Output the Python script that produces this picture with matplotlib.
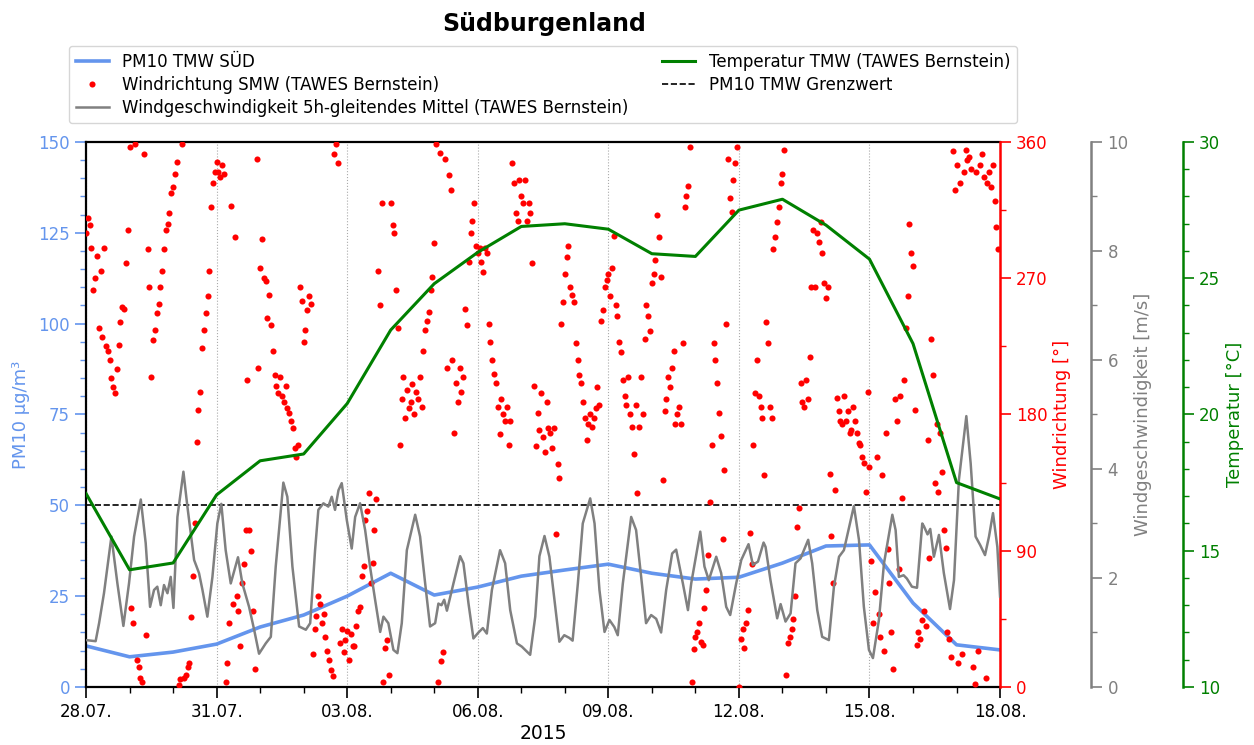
import numpy as np
import pandas as pd
import matplotlib
matplotlib.use("Agg")
import matplotlib.pyplot as plt
import matplotlib.dates as mdates
from matplotlib.ticker import MultipleLocator, FixedLocator

# Tageswerte 28.07. - 18.08.2015
days = pd.date_range("2015-07-28", "2015-08-18", freq="D")
pm10 = [11.3, 8.3, 9.6, 11.8, 16.5, 19.8, 25.0, 31.3, 25.3, 27.5, 30.5,
        32.2, 33.8, 31.3, 29.7, 30.2, 34.1, 38.8, 39.1, 23.1, 11.6, 10.2]
temp = [17.1, 14.3, 14.55, 17.05, 18.3, 18.55, 20.4, 23.1, 24.8, 25.95, 26.9,
        27.0, 26.8, 25.9, 25.8, 27.5, 27.9, 26.95, 25.7, 22.6, 17.5, 16.9]
grenzwert = 50

# Windrichtung, Stundenwerte (eine Zeile pro Tag)
wind_dir = [
    300, 310, 305, 290, 262, 270, 285, 237, 275, 231, 290, 225, 222, 216, 204, 198, 194, 210, 226, 241, 251, 250, 280, 302,  # 28.07.
    357, 52, 42, 359, 18, 13, 6, 3, 352, 34, 289, 264, 205, 229, 236, 247, 253, 264, 275, 289, 302, 306, 313, 326,  # 29.07.
    330, 339, 347, 1, 5, 359, 6, 8, 13, 16, 46, 73, 108, 162, 183, 195, 224, 236, 247, 258, 275, 317, 333, 340,  # 30.07.
    347, 340, 337, 345, 339, 3, 16, 42, 318, 55, 297, 60, 50, 27, 69, 81, 104, 203, 104, 90, 50, 12, 349, 211,  # 31.07.
    277, 296, 270, 268, 244, 259, 239, 222, 206, 199, 194, 205, 192, 188, 199, 184, 181, 176, 171, 158, 152, 160, 264, 255,  # 01.08.
    228, 236, 249, 258, 253, 22, 38, 47, 60, 55, 42, 48, 33, 24, 18, 11, 7, 352, 359, 346, 29, 38, 23, 31,  # 02.08.
    37, 18, 35, 27, 27, 40, 50, 53, 73, 80, 110, 116, 128, 69, 82, 104, 124, 275, 252, 320, 3, 26, 31, 8,  # 03.08.
    320, 305, 300, 262, 237, 160, 190, 205, 178, 196, 184, 188, 200, 180, 195, 190, 205, 185, 222, 236, 242, 248, 262, 271,  # 04.08.
    293, 359, 3, 353, 17, 23, 349, 211, 338, 328, 216, 168, 201, 188, 211, 195, 205, 250, 239, 281, 300, 308, 320, 291,  # 05.08.
    287, 290, 281, 274, 290, 287, 240, 228, 216, 207, 201, 185, 167, 190, 180, 176, 185, 160, 176, 346, 333, 313, 308, 335,  # 06.08.
    324, 320, 335, 308, 320, 313, 280, 199, 159, 181, 170, 194, 165, 155, 188, 171, 168, 158, 171, 101, 147, 138, 240, 254,  # 07.08.
    273, 284, 291, 264, 259, 254, 227, 216, 206, 201, 188, 178, 163, 174, 180, 172, 178, 184, 198, 186, 242, 249, 264, 269,  # 08.08.
    273, 258, 277, 298, 252, 245, 228, 221, 203, 192, 186, 205, 180, 172, 154, 186, 128, 172, 205, 180, 230, 252, 245, 235,  # 09.08.
    267, 273, 282, 312, 297, 271, 137, 182, 190, 205, 198, 211, 222, 174, 180, 185, 174, 227, 317, 324, 331, 357, 3, 25,  # 10.08.
    33, 36, 42, 30, 28, 52, 64, 87, 122, 160, 227, 216, 201, 181, 166, 98, 143, 240, 349, 323, 314, 335, 346, 357,  # 11.08.
    0, 32, 38, 26, 42, 51, 102, 81, 160, 194, 216, 192, 185, 178, 140, 241, 227, 185, 178, 289, 297, 307, 317, 333,  # 12.08.
    339, 355, 8, 29, 33, 38, 45, 60, 106, 118, 201, 188, 185, 203, 190, 218, 264, 302, 264, 300, 294, 307, 287, 267,  # 13.08.
    257, 264, 141, 100, 69, 130, 191, 182, 176, 174, 192, 176, 182, 168, 170, 185, 176, 168, 161, 160, 152, 148, 129, 195,  # 14.08.
    145, 83, 42, 63, 152, 48, 33, 140, 24, 168, 91, 69, 36, 12, 190, 176, 78, 192, 125, 203, 237, 258, 306, 287,  # 15.08.
    278, 183, 28, 36, 32, 44, 50, 40, 163, 85, 230, 206, 135, 174, 129, 168, 142, 104, 92, 36, 32, 20, 354, 328,  # 16.08.
    345, 16, 333, 22, 340, 355, 348, 350, 342, 13, 2, 340, 24, 345, 352, 337, 6, 333, 340, 330, 345, 321, 304, 289,  # 17.08.
]
wd_time = pd.date_range("2015-07-28", periods=len(wind_dir), freq="h")

# Windgeschwindigkeit 5h-Mittel: (Stunden ab 28.07. 00:00, m/s)
ws_points = [
    (0, 0.86), (5.3, 0.84), (7.2, 1.17), (9.9, 1.72), (14.0, 2.76), (17.3, 1.9), (20.6, 1.12),
    (23.7, 1.9), (26.5, 2.76), (30.2, 3.44), (32.9, 2.64), (35.3, 1.47), (37.5, 1.78), (39.3, 1.84),
    (41.2, 1.5), (43.0, 1.87), (44.9, 1.72), (46.7, 2.02), (48.2, 1.45), (50.4, 3.12), (53.7, 3.95),
    (55.9, 3.31), (59.6, 2.33), (62.3, 2.09), (64.2, 1.78), (66.9, 1.29), (69.7, 2.02), (72.4, 3.0),
    (74.6, 3.36), (77.0, 2.51), (79.8, 1.9), (83.8, 2.38), (86.2, 1.9), (89.9, 1.47), (92.7, 1.05),
    (95.4, 0.61), (99.1, 0.8), (101.9, 0.92), (104.6, 2.21), (108.8, 3.75), (111.0, 3.49), (113.8, 2.21),
    (117.5, 1.11), (121.2, 1.05), (123.6, 1.17), (126.3, 2.51), (128.1, 3.25), (130.9, 3.37), (133.6, 3.31),
    (135.5, 3.49), (137.3, 3.25), (139.2, 3.61), (141.0, 3.74), (143.8, 3.06), (146.5, 2.54), (148.4, 3.12),
    (151.1, 3.37), (153.9, 2.88), (156.6, 2.21), (159.4, 1.6), (162.2, 1.01), (164.0, 1.29), (166.7, 1.17),
    (169.5, 0.68), (171.7, 0.62), (174.1, 1.17), (176.9, 2.51), (181.5, 3.16), (184.2, 2.76), (187.0, 1.9),
    (189.7, 1.11), (192.5, 1.17), (194.3, 1.53), (196.0, 1.5), (197.5, 1.6), (199.0, 1.4), (202.6, 1.9),
    (206.3, 2.4), (208.1, 2.27), (210.9, 1.53), (213.6, 0.89), (216.4, 1.0), (218.8, 1.08), (221.0, 0.98),
    (223.8, 1.78), (228.3, 2.51), (231.1, 2.27), (233.9, 1.41), (237.6, 0.8), (240.3, 0.74), (244.9, 0.59),
    (247.7, 1.29), (250.0, 2.4), (252.8, 2.77), (255.5, 2.39), (258.3, 1.6), (261.0, 0.83), (263.7, 0.95),
    (266.5, 0.9), (268.3, 0.85), (271.2, 1.9), (273.9, 3.0), (278.0, 3.46), (280.4, 3.0), (283.1, 1.78),
    (285.9, 1.01), (288.6, 1.23), (291.3, 1.1), (293.2, 0.95), (296.0, 1.9), (300.6, 3.12), (303.3, 2.88),
    (306.1, 2.02), (308.8, 1.17), (311.6, 1.32), (314.4, 1.25), (317.1, 1.0), (319.9, 1.78), (323.2, 2.45),
    (325.4, 2.52), (329.1, 1.9), (331.9, 1.41), (333.7, 1.9), (338.7, 2.85), (341.0, 2.21), (343.4, 1.96),
    (347.5, 2.39), (350.2, 2.09), (353.0, 1.47), (355.2, 1.32), (358.5, 1.9), (361.3, 2.33), (365.3, 2.62),
    (367.7, 2.24), (370.5, 2.3), (373.6, 2.65), (374.7, 2.57), (377.4, 1.96), (381.1, 1.26), (383.0, 1.52),
    (385.7, 1.2), (388.5, 1.35), (391.2, 2.27), (394.0, 2.36), (398.2, 2.7), (400.4, 2.27), (403.2, 1.41),
    (405.9, 0.92), (409.6, 0.86), (412.4, 1.84), (415.2, 2.39), (417.9, 2.51), (423.4, 3.32), (426.2, 2.7),
    (428.9, 1.47), (431.7, 0.68), (433.9, 0.53), (437.2, 1.23), (440.0, 2.27), (444.6, 3.16), (446.4, 2.88),
    (448.2, 2.02), (450.8, 2.05), (452.6, 1.99), (455.4, 1.84), (458.2, 1.82), (461.1, 3.0), (462.0, 2.95),
    (464.0, 2.8), (465.5, 2.9), (467.5, 2.39), (470.3, 2.79), (473.0, 2.09), (476.4, 1.43), (478.6, 1.96),
    (481.3, 3.8), (485.4, 4.97), (487.8, 4.1), (490.5, 2.76), (493.1, 2.6), (495.7, 2.42), (497.9, 2.76),
    (500.1, 3.19), (502.5, 2.57), (504.0, 1.66),
]
ws_hours = [p[0] for p in ws_points]
ws_speed = [p[1] for p in ws_points]
ws_time = pd.Timestamp("2015-07-28") + pd.to_timedelta(ws_hours, unit="h")

c_pm = "cornflowerblue"
c_wd = "red"
c_ws = "gray"
c_t = "green"

fig = plt.figure(figsize=(12.54, 7.45), dpi=100)
ax = fig.add_axes([0.0686, 0.0779, 0.7289, 0.7315])
ax_wd = ax.twinx()
ax_ws = ax.twinx()
ax_t = ax.twinx()
ax_ws.spines["right"].set_position(("axes", 1.1))
ax_t.spines["right"].set_position(("axes", 1.2))

l_pm, = ax.plot(days, pm10, color=c_pm, lw=2.6, label="PM10 TMW SÜD")
l_gw = ax.axhline(grenzwert, color="black", ls="--", lw=1.2, label="PM10 TMW Grenzwert")
l_wd, = ax_wd.plot(wd_time, wind_dir, "o", color=c_wd, ms=4.4, mew=0,
                   label="Windrichtung SMW (TAWES Bernstein)")
l_ws, = ax_ws.plot(ws_time, ws_speed, color=c_ws, lw=1.8,
                   label="Windgeschwindigkeit 5h-gleitendes Mittel (TAWES Bernstein)")
l_t, = ax_t.plot(days, temp, color=c_t, lw=2.2, label="Temperatur TMW (TAWES Bernstein)")

ax.set_xlim(days[0], days[-1])
ax.set_ylim(0, 150)
ax_wd.set_ylim(0, 360)
ax_ws.set_ylim(0, 10)
ax_t.set_ylim(10, 30)

ax.xaxis.set_major_locator(FixedLocator(mdates.date2num(days[::3].to_pydatetime())))
ax.xaxis.set_minor_locator(FixedLocator(mdates.date2num(days.to_pydatetime())))
ax.xaxis.set_major_formatter(mdates.DateFormatter("%d.%m."))
ax.grid(True, axis="x", which="major", color="#aaaaaa", ls=":", lw=0.8)

ax.yaxis.set_major_locator(MultipleLocator(25))
ax.yaxis.set_minor_locator(MultipleLocator(5))
ax_wd.yaxis.set_major_locator(MultipleLocator(90))
ax_wd.yaxis.set_minor_locator(MultipleLocator(45))
ax_ws.yaxis.set_major_locator(MultipleLocator(2))
ax_ws.yaxis.set_minor_locator(MultipleLocator(1))
ax_t.yaxis.set_major_locator(MultipleLocator(5))
ax_t.yaxis.set_minor_locator(MultipleLocator(1))

for a in (ax, ax_wd, ax_ws, ax_t):
    a.tick_params(which="major", direction="out", length=8, width=1.2, labelsize=12)
    a.tick_params(which="minor", direction="out", length=4, width=1.0)

ax.tick_params(axis="y", which="both", colors=c_pm)
ax_wd.tick_params(axis="y", which="both", colors=c_wd)
ax_ws.tick_params(axis="y", which="both", colors=c_ws)
ax_t.tick_params(axis="y", which="both", colors=c_t)

for s in ("top", "bottom", "left"):
    ax.spines[s].set_linewidth(1.6)
ax.spines["right"].set_visible(False)
for a, c in ((ax_wd, c_wd), (ax_ws, c_ws), (ax_t, c_t)):
    for s in ("top", "bottom", "left"):
        a.spines[s].set_visible(False)
    a.spines["right"].set_color(c)
    a.spines["right"].set_linewidth(1.8)

ax.set_ylabel("PM10 µg/m³", color=c_pm, fontsize=13, labelpad=6)
ax_wd.set_ylabel("Windrichtung [°]", color=c_wd, fontsize=13)
ax_ws.set_ylabel("Windgeschwindigkeit [m/s]", color=c_ws, fontsize=13)
ax_t.set_ylabel("Temperatur [°C]", color=c_t, fontsize=13)
ax.set_xlabel("2015", fontsize=13.5, labelpad=2)

fig.text(0.434, 0.968, "Südburgenland", ha="center", va="center",
         fontsize=17, fontweight="bold")

handles = [l_pm, l_wd, l_ws, l_t, l_gw]
ax_t.legend(handles, [h.get_label() for h in handles], loc="lower center",
            bbox_to_anchor=(0.5, 1.019), ncol=2, fontsize=12, labelspacing=0.3)

fig.savefig("out.png", dpi=100)
